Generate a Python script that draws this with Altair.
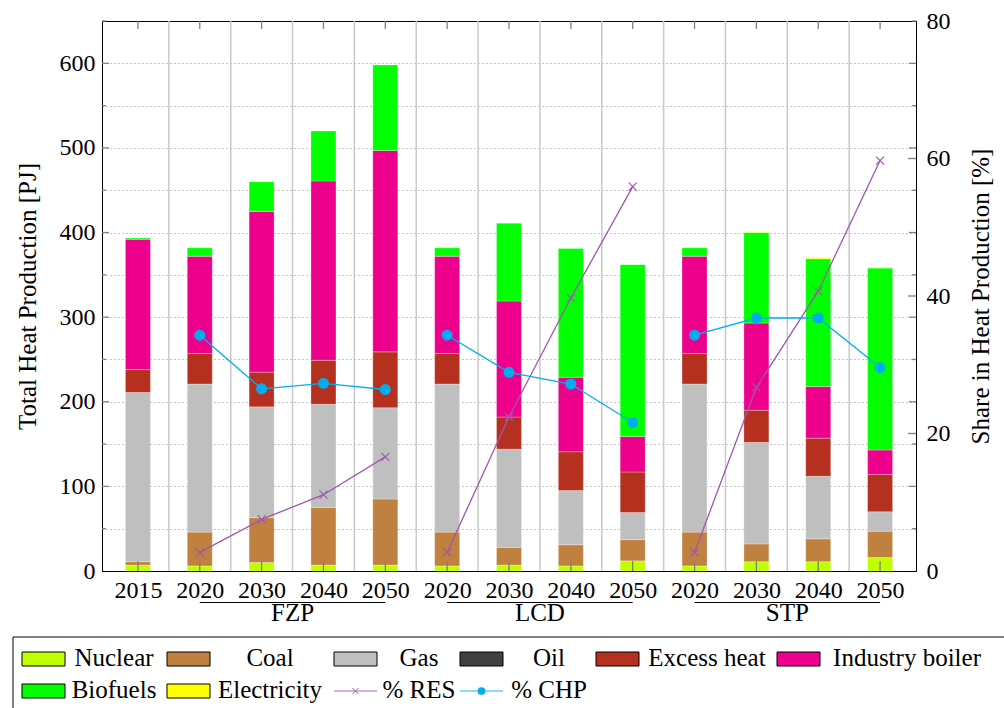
import altair as alt
import pandas as pd

# ---------------- data ----------------
years = ["2015", "2020", "2030", "2040", "2050", "2020", "2030", "2040", "2050",
         "2020", "2030", "2040", "2050"]
scenarios = ["", "FZP", "FZP", "FZP", "FZP", "LCD", "LCD", "LCD", "LCD",
             "STP", "STP", "STP", "STP"]

nuclear = [7, 6, 10, 7, 7, 6, 7, 6, 12, 6, 11, 11, 16]
coal = [4, 40, 53, 68, 78, 40, 21, 25, 25, 40, 21, 27, 31]
gas = [200, 175, 131, 122, 108, 175, 116, 64, 32, 175, 120, 74, 23]
oil = [0, 0, 0, 0, 0, 0, 0, 0, 0, 0, 0, 0, 0]
excess_heat = [27, 36, 41, 52, 66, 36, 38, 46, 48, 36, 38, 45, 44]
industry_boiler = [154, 115, 190, 212, 238, 115, 137, 88, 42, 115, 103, 61, 29]
biofuels = [1.5, 10, 35, 59, 101, 10, 92, 152, 203, 10, 107, 151, 215]
electricity = [0, 0, 0, 0, 0, 0, 0, 0, 0, 0, 1, 1.5, 1]

res_share = [None, 2.7, 7.5, 11.1, 16.6, 2.7, 22.4, 39.7, 55.9, 2.7, 26.7, 40.7, 59.7]
chp_share = [None, 34.3, 26.5, 27.3, 26.4, 34.3, 28.9, 27.2, 21.6, 34.3, 36.8, 36.8, 29.6]

sources = ["Nuclear", "Coal", "Gas", "Oil", "Excess heat", "Industry boiler",
           "Biofuels", "Electricity"]
source_colors = ["#bfff00", "#bf8040", "#bfbfbf", "#404040", "#b5301e", "#ec008c",
                 "#00ff00", "#ffff00"]
RES_COLOR = "#a057b0"
CHP_COLOR = "#00aeef"

scenario_names = ["FZP", "LCD", "STP"]
scenario_first = [1, 5, 9]
scenario_last = [4, 8, 12]

# ---------------- layout ----------------
W, H = 814, 550
PAD = {"left": 102, "top": 21, "right": 88, "bottom": 137}
FONT = "Liberation Serif"
FS = 24          # tick labels
FS_TEXT = 25     # axis titles, scenario names, legend
TICK_GRAY = "#808080"

# legend grid (page pixels): swatch left edge and text centre per column, row centres
LEGEND_COL_X = [22, 167, 334, 460, 596, 777]
LEGEND_TEXT_CX = [114, 270, 419, 549, 707, 907]
LEGEND_ROW_Y = [659, 691]
SWATCH_W, SWATCH_H = 43, 14

idx = list(range(len(years)))

# ---------------- tables ----------------
series = [nuclear, coal, gas, oil, excess_heat, industry_boiler, biofuels, electricity]
bar_rows = []
for k, (name, vals) in enumerate(zip(sources, series)):
    for i, v in enumerate(vals):
        if v > 0:
            bar_rows.append({"idx": i, "source": name, "order": k, "value": v})
bars_df = pd.DataFrame(bar_rows)

share_rows = []
for name, vals in [("% RES", res_share), ("% CHP", chp_share)]:
    for i, v in enumerate(vals):
        if v is not None:
            share_rows.append({"idx": i, "scenario": scenarios[i], "series": name, "share": v})
share_df = pd.DataFrame(share_rows)

groups_df = pd.DataFrame({"scenario": scenario_names, "first": scenario_first,
                          "last": scenario_last})

# ---------------- scales & axes ----------------
xs = alt.Scale(domain=[-0.5, len(years) - 0.5], nice=False, zero=False)
ys_left = alt.Scale(domain=[0, 650], nice=False)
ys_right = alt.Scale(domain=[0, 80], nice=False)

year_js = "[" + ",".join(f"'{y}'" for y in years) + "]"
x_axis = alt.Axis(values=idx, labelExpr=f"{year_js}[datum.value]", title=None,
                  grid=False, ticks=False, tickSize=0, labelPadding=26,
                  labelBaseline="alphabetic", labelFlush=False, labelOverlap=False)
y_left_axis = alt.Axis(values=list(range(0, 601, 50)),
                       labelExpr="datum.value % 100 === 0 ? datum.label : ''",
                       title="Total Heat Production [PJ]", grid=True, gridDash=[1, 3],
                       gridColor="#8c8c8c", gridWidth=1.2, ticks=False, tickSize=0,
                       labelPadding=7, titleX=-75, titleY=H / 2, titleAngle=270,
                       titleBaseline="middle", titleAlign="center")
y_right_axis = alt.Axis(orient="right", values=[0, 20, 40, 60, 80],
                        title="Share in Heat Production [%]", grid=False, ticks=False,
                        tickSize=0, labelPadding=10, titleX=64, titleY=H / 2,
                        titleAngle=270, titleBaseline="middle", titleAlign="center")


def xq(field):
    return alt.X(f"{field}:Q", scale=xs, axis=x_axis)


# ---------------- main plot (left axis) ----------------
vgrid = alt.Chart(pd.DataFrame({"b": [i + 0.5 for i in idx[:-1]]})).mark_rule(
    color="#c9c9c9", strokeWidth=1.5
).encode(x=xq("b"))

bars = alt.Chart(bars_df).mark_bar(
    size=25, stroke="white", strokeOpacity=0.35, strokeWidth=0.8
).encode(
    x=xq("idx"),
    y=alt.Y("value:Q", stack="zero", scale=ys_left, axis=y_left_axis),
    color=alt.Color("source:N", scale=alt.Scale(domain=sources, range=source_colors),
                    legend=None),
    order=alt.Order("order:Q", sort="ascending"),
)

idx_df = pd.DataFrame({"idx": idx})
bottom_ticks = alt.Chart(idx_df).mark_rule(color=TICK_GRAY, strokeWidth=1.3).encode(
    x=xq("idx"), y=alt.value(H), y2=alt.value(H - 10))
top_ticks = alt.Chart(idx_df).mark_rule(color=TICK_GRAY, strokeWidth=1.3).encode(
    x=xq("idx"), y=alt.value(0), y2=alt.value(8))

major_df = pd.DataFrame({"v": list(range(100, 601, 100))})
minor_df = pd.DataFrame({"v": list(range(50, 651, 100))})


def pj_ticks(df, x0, x1):
    return alt.Chart(df).mark_rule(color=TICK_GRAY, strokeWidth=1.3).encode(
        y=alt.Y("v:Q", scale=ys_left, axis=y_left_axis),
        x=alt.value(x0), x2=alt.value(x1))


left_major = pj_ticks(major_df, 0, 7)
left_minor = pj_ticks(minor_df, 0, 4)
right_major = pj_ticks(major_df, W, W - 7)
right_minor = pj_ticks(minor_df, W, W - 4)

group_rule = alt.Chart(groups_df).mark_rule(color="black", strokeWidth=1).encode(
    x=xq("first"), x2="last:Q", y=alt.value(H + 31.5))
group_text = alt.Chart(groups_df).transform_calculate(
    mid="(datum.first + datum.last) / 2"
).mark_text(font=FONT, fontSize=FS_TEXT, baseline="alphabetic", align="center",
            color="black").encode(x=xq("mid"), y=alt.value(H + 50), text="scenario:N")

left_layer = alt.layer(vgrid, bars, bottom_ticks, top_ticks, left_major, left_minor,
                       right_major, right_minor, group_rule, group_text)

# ---------------- share lines (right axis) ----------------
res_df = share_df[share_df["series"] == "% RES"]
chp_df = share_df[share_df["series"] == "% CHP"]
y_share = alt.Y("share:Q", scale=ys_right, axis=y_right_axis)

res_line = alt.Chart(res_df).mark_line(color=RES_COLOR, strokeWidth=1.3).encode(
    x=xq("idx"), y=y_share, detail="scenario:N")
res_pts = alt.Chart(res_df).mark_point(
    shape="M-1,-1L1,1M-1,1L1,-1", size=64, filled=False, color=RES_COLOR,
    strokeWidth=1.2, opacity=1).encode(x=xq("idx"), y=y_share)
chp_line = alt.Chart(chp_df).mark_line(color=CHP_COLOR, strokeWidth=1.3).encode(
    x=xq("idx"), y=y_share, detail="scenario:N")
chp_pts = alt.Chart(chp_df).mark_point(
    shape="circle", size=121, filled=True, color=CHP_COLOR, opacity=1).encode(
    x=xq("idx"), y=y_share)
pct_ticks = alt.Chart(pd.DataFrame({"share": [20, 40, 60]})).mark_rule(
    color=TICK_GRAY, strokeWidth=1.3).encode(y=y_share, x=alt.value(W), x2=alt.value(W - 8))

right_layer = alt.layer(res_line, chp_line, res_pts, chp_pts, pct_ticks)

# ---------------- legend ----------------
legend_items = [
    ("Nuclear", "bar", source_colors[0], 0, 0),
    ("Coal", "bar", source_colors[1], 1, 0),
    ("Gas", "bar", source_colors[2], 2, 0),
    ("Oil", "bar", source_colors[3], 3, 0),
    ("Excess heat", "bar", source_colors[4], 4, 0),
    ("Industry boiler", "bar", source_colors[5], 5, 0),
    ("Biofuels", "bar", source_colors[6], 0, 1),
    ("Electricity", "bar", source_colors[7], 1, 1),
    ("% RES", "res", RES_COLOR, 2, 1),
    ("% CHP", "chp", CHP_COLOR, 3, 1),
]
ox, oy = PAD["left"], PAD["top"]
leg_rows = []
for label, kind, color, col, row in legend_items:
    x1 = LEGEND_COL_X[col] - ox
    yc = LEGEND_ROW_Y[row] - oy
    leg_rows.append({
        "label": label, "kind": kind, "color": color,
        "x1": x1, "x2": x1 + SWATCH_W, "xm": x1 + SWATCH_W / 2,
        "y1": yc - SWATCH_H / 2, "y2": yc + SWATCH_H / 2, "ym": yc,
        "tx": LEGEND_TEXT_CX[col] - ox, "ty": yc + 7,
    })
leg_df = pd.DataFrame(leg_rows)

box = alt.Chart(pd.DataFrame({"x1": [13 - ox], "x2": [1010 - ox],
                              "y1": [637 - oy], "y2": [720 - oy]})).mark_rect(
    fillOpacity=0, stroke="black", strokeWidth=1).encode(
    x=alt.X("x1:Q", scale=None), x2="x2:Q", y=alt.Y("y1:Q", scale=None), y2="y2:Q")

swatches = alt.Chart(leg_df).transform_filter("datum.kind === 'bar'").mark_rect(
    stroke="black", strokeWidth=1).encode(
    x=alt.X("x1:Q", scale=None), x2="x2:Q", y=alt.Y("y1:Q", scale=None), y2="y2:Q",
    fill=alt.Fill("color:N", scale=None))

leg_lines = alt.Chart(leg_df).transform_filter("datum.kind !== 'bar'").mark_rule(
    strokeWidth=1.6, opacity=0.6).encode(
    x=alt.X("x1:Q", scale=None), x2="x2:Q", y=alt.Y("ym:Q", scale=None),
    color=alt.Color("color:N", scale=None))

leg_res = alt.Chart(leg_df).transform_filter("datum.kind === 'res'").mark_point(
    shape="M-1,-1L1,1M-1,1L1,-1", size=36, filled=False, color=RES_COLOR,
    strokeWidth=1, opacity=1).encode(
    x=alt.X("xm:Q", scale=None), y=alt.Y("ym:Q", scale=None))
leg_chp = alt.Chart(leg_df).transform_filter("datum.kind === 'chp'").mark_point(
    shape="circle", size=60, filled=True, color=CHP_COLOR, opacity=1).encode(
    x=alt.X("xm:Q", scale=None), y=alt.Y("ym:Q", scale=None))

leg_text = alt.Chart(leg_df).mark_text(
    font=FONT, fontSize=FS_TEXT, align="center", baseline="alphabetic", color="black").encode(
    x=alt.X("tx:Q", scale=None), y=alt.Y("ty:Q", scale=None), text="label:N")

legend_layer = alt.layer(box, swatches, leg_lines, leg_res, leg_chp, leg_text)

# ---------------- assemble ----------------
chart = alt.layer(left_layer, right_layer, legend_layer).resolve_scale(
    y="independent"
).properties(
    width=W, height=H,
    autosize=alt.AutoSizeParams(type="none"),
    padding=PAD,
).configure_view(
    stroke="black", strokeWidth=1
).configure_axis(
    labelFont=FONT, titleFont=FONT, labelFontSize=FS, titleFontSize=FS_TEXT,
    labelColor="black", titleColor="black", titleFontWeight="normal",
    domainColor="black", domainWidth=1,
).configure_text(font=FONT)

chart.save("out.html", embed_options={"renderer": "svg", "actions": False})
